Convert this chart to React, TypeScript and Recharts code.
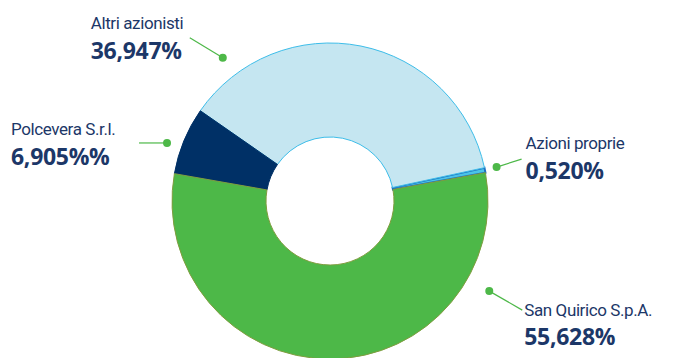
import React from 'react';
import { Cell, Pie, PieChart } from 'recharts';

// shareholders, in drawing order (counter-clockwise from the right)
const holders = ['Azioni proprie', 'Altri azionisti', 'Polcevera S.r.l.', 'San Quirico S.p.A.'];
const shares = [0.52, 36.947, 6.905, 55.628];
const shareLabels = ['0,520%', '36,947%', '6,905%%', '55,628%'];

const fills = ['#4ac4e8', '#c5e6f1', '#003066', '#4db848'];
const strokes = ['#1f6fc0', '#3dbde9', '#003066', '#7f9d3e'];

// where each callout dot sits (angle in degrees, distance past the outer edge)
// and where its line and text go relative to the dot
const callouts = [
  { angle: 11.5, gap: 12, line: [25, -8], tx: 29, nameDy: -18, valDy: 12 },
  { angle: 126.8, gap: 21, line: [-33, -20], tx: -132, nameDy: -29, valDy: 1 },
  { angle: 160.4, gap: 15, line: [-28, 0], tx: -156, nameDy: -8, valDy: 22 },
  { angle: -29.5, gap: 25, line: [33, 19], tx: 35, nameDy: 25, valDy: 54 },
];

const data = holders.map((name, i) => ({ name, value: shares[i] }));

const RAD = Math.PI / 180;
const textColor = '#1c3768';

const renderLabel = (props: any) => {
  const { cx, cy, outerRadius, index } = props;
  const c = callouts[index];
  const r = outerRadius + c.gap;
  const x = cx + r * Math.cos(c.angle * RAD);
  const y = cy - r * Math.sin(c.angle * RAD);
  return (
    <g key={`lbl-${index}`}>
      <line x1={x} y1={y} x2={x + c.line[0]} y2={y + c.line[1]} stroke="#4db848" strokeWidth={1.2} />
      <circle cx={x} cy={y} r={4} fill="#4db848" />
      <text
        x={x + c.tx}
        y={y + c.nameDy}
        fill={textColor}
        fontSize={17}
        letterSpacing={-0.4}
        fontFamily="Roboto, sans-serif"
      >
        {holders[index]}
      </text>
      <text
        x={x + c.tx}
        y={y + c.valDy}
        fill={textColor}
        fontSize={23}
        fontWeight={700}
        letterSpacing={-0.3}
        fontFamily='"Open Sans", sans-serif'
      >
        {shareLabels[index]}
      </text>
    </g>
  );
};

const App = () => {
  return (
    <div style={{ position: 'absolute', left: 0, top: 0, width: 677, height: 358, background: '#fff' }}>
      <PieChart width={677} height={358} margin={{ top: 0, right: 0, bottom: 0, left: 0 }}>
        <Pie
          data={data}
          dataKey="value"
          nameKey="name"
          cx={330}
          cy={201}
          innerRadius={64}
          outerRadius={158}
          startAngle={10.3}
          endAngle={370.3}
          label={renderLabel}
          labelLine={false}
          isAnimationActive={false}
        >
          {data.map((entry, i) => (
            <Cell key={entry.name} fill={fills[i]} stroke={strokes[i]} strokeWidth={i === 0 ? 2 : 1} />
          ))}
        </Pie>
      </PieChart>
    </div>
  );
};

export default App;
